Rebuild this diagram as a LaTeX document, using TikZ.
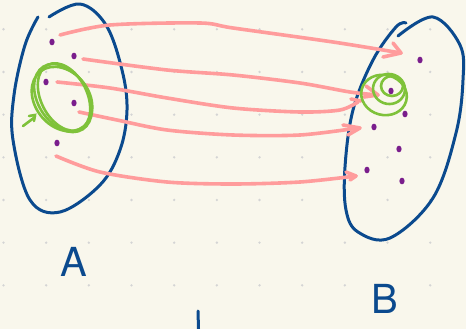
\documentclass[tikz,border=0pt]{standalone}
\usepackage{fontspec}
\setsansfont{TeX Gyre Heros}
\definecolor{paper}{HTML}{F9F7EC}
\definecolor{gdot}{HTML}{D4D4D4}
\definecolor{ink}{HTML}{0B4A8E}
\definecolor{pinkln}{HTML}{FF9C9C}
\definecolor{greenln}{HTML}{7FC23A}
\definecolor{purp}{HTML}{7A1E8C}
\tikzset{
  blob/.style={draw=ink, line width=3pt, line cap=round, line join=round},
  arr/.style={draw=pinkln, line width=3.6pt, line cap=round, line join=round},
  ring/.style={draw=greenln, line width=2.6pt, line cap=round},
  pt/.style={fill=purp},
  lbl/.style={text=ink, font=\sffamily\fontsize{40}{40}\selectfont},
}
\begin{document}
\begin{tikzpicture}[x=1pt,y=-1pt]
\fill[paper] (0,0) rectangle (466,329);
\useasboundingbox (0,0) rectangle (466,329);
% dot grid
\foreach \i in {0,...,10} \foreach \j in {0,...,7}
  \fill[gdot] (3.5+42.67*\i, 29.3+42.67*\j-42.67) circle (1.3);
% left blob
\draw[blob] plot[smooth, tension=0.6] coordinates {(49,17) (80,4) (106,25) (122,70) (127,110) (120,150) (100,185) (60,212) (30,200) (13,140) (14,95) (25,45) (38,17)};
% right blob
\draw[blob] plot[smooth, tension=0.6] coordinates {(398,36) (433,17) (460,45) (463,80) (456,133) (433,198) (390,238) (358,232) (346,210) (345,167) (353,110) (373,60) (396,27) (406,23)};
% purple dots A
\foreach \p in {(52,42),(74,56),(46,82),(74,103),(57,143)}
  \fill[pt] \p ellipse (2.6 and 3.3);
% purple dots B
\foreach \p in {(420,60),(391,91),(405,114),(374,127),(399,149),(367,170),(402,181)}
  \fill[pt] \p ellipse (2.6 and 3.3);
% pink arrows
\draw[arr] plot[smooth, tension=0.5] coordinates {(60,35) (110,25) (200,23) (233,28) (333,42) (401,53)};
\draw[arr] (393,43) -- (401,53) -- (383,57);
\draw[arr] plot[smooth, tension=0.5] coordinates {(83,59) (167,70) (233,75) (300,83) (350,92) (378,95)};
\draw[arr] (366,86) -- (378,95) -- (364,97);
\draw[arr] plot[smooth, tension=0.5] coordinates {(57,82) (110,88) (167,98) (233,108) (300,112) (340,110) (358,102)};
\draw[arr] (351,99) -- (361,101);
\draw[arr] plot[smooth, tension=0.5] coordinates {(79,112) (117,120) (167,130) (233,135) (300,135) (358,128)};
\draw[arr] (343,125) -- (360,128) -- (348,135);
\draw[arr] plot[smooth, tension=0.5] coordinates {(56,156) (100,172) (167,182) (233,184) (300,182) (356,176)};
\draw[arr] (346,172) -- (356,176) -- (350,180);
% green ring A
\draw[ring] (63,98) ellipse[x radius=37, y radius=25, rotate=-58];
\draw[ring] (62,99) ellipse[x radius=35, y radius=27, rotate=-52];
\draw[ring] (64,97) ellipse[x radius=36, y radius=23, rotate=-63];
\draw[ring] (23,126) -- (35,117);
\draw[ring] (29,116) -- (35,115) -- (34,121);
% green ring B
\draw[ring] (384,95) ellipse[x radius=23, y radius=20, rotate=-15];
\draw[ring] (389,89) ellipse[x radius=16, y radius=15, rotate=-10];
\draw[ring] (392,86) ellipse[x radius=11, y radius=10];
% labels
\node[lbl] (A) at (74,262) {A};
\node[lbl] (B) at (385,299) {B};
\draw[blob] (198,311) -- (198.5,329);
\end{tikzpicture}
\end{document}
